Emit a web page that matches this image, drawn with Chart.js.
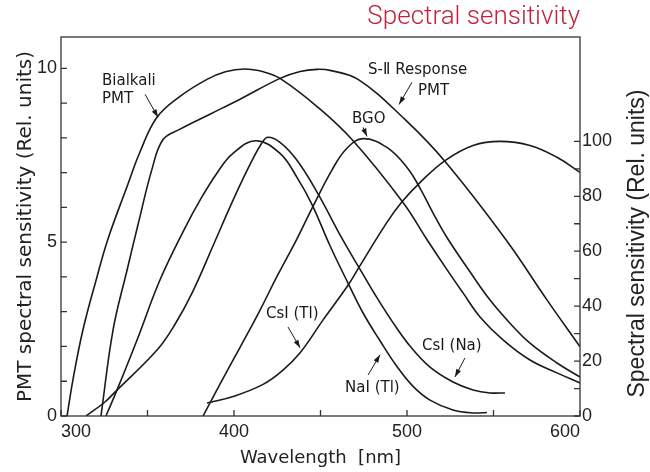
<!DOCTYPE html>
<html>
<head>
<meta charset="utf-8">
<script src="https://cdn.jsdelivr.net/npm/chart.js@4.4.1/dist/chart.umd.min.js"></script>
<style>
  html, body { margin: 0; padding: 0; background: #fff; }
  #wrap { width: 650px; height: 472px; }
</style>
</head>
<body>
<div id="wrap"><canvas id="myChart"></canvas></div>
<script>
// PMT response, left axis (rel. units, 0-10)
const bialkaliWl  = [303.5, 306.9, 312.7, 320.8, 327.2, 338.2, 345.7, 355.5, 368.8, 384.4, 395.0, 406.0, 417.0, 426.6, 448.0, 468.2, 497.7, 511.6, 523.1, 532.4, 542.2, 555.5, 571.1, 586.7, 600];
const bialkaliVal = [0, 1.04, 2.48, 4.0, 5.1, 6.6, 7.6, 8.59, 9.19, 9.68, 9.9, 9.98, 9.9, 9.71, 8.90, 7.95, 6.14, 5.07, 4.21, 3.54, 2.85, 2.19, 1.61, 1.24, 0.95];

const s11Wl  = [323.1, 330.1, 338.2, 344.5, 352.6, 359.0, 368.8, 386.1, 403.5, 426.6, 438.2, 448.0, 455.5, 471.7, 498.8, 522.0, 557.2, 580.9, 600];
const s11Val = [0, 2.48, 4.2, 5.5, 7.1, 7.95, 8.25, 8.68, 9.11, 9.71, 9.91, 9.97, 9.94, 9.68, 8.53, 7.32, 5.07, 3.34, 1.99];

// scintillator emission, right axis (rel. units, 0-100)
const bgoWl  = [382.1, 391.9, 403.5, 415.0, 425.0, 436.4, 445.0, 457.0, 465.3, 474.6, 488.4, 500.0, 507.5, 515.0, 523.1, 536.4, 548.0, 559.5, 571.1, 586.7, 600];
const bgoVal = [0, 11.6, 25.0, 38.5, 51.0, 64.5, 75.5, 90.0, 97.5, 101.0, 97.8, 90.5, 83.0, 74.0, 65.0, 52.5, 42.2, 33.8, 26.5, 19.3, 14.2];

const csiTlWl  = [384.4, 400.0, 416.8, 428.0, 438.2, 451.4, 465.9, 472.3, 488.4, 497.1, 507.5, 522.0, 538.2, 553.8, 571.1, 586.7, 600];
const csiTlVal = [4.7, 7.2, 11.5, 16.5, 23.0, 34.9, 47.6, 54.2, 70.5, 78.0, 85.0, 93.0, 98.5, 100, 98.5, 94.2, 88.7];

const naiWl  = [326.0, 332.4, 343.9, 357.2, 371.7, 380.3, 390.2, 399.4, 412.7, 426.6, 436.4, 445.1, 455.5, 465.9, 474.6, 484.4, 494.2, 503.5, 513.3, 526.6, 538.2, 546.2];
const naiVal = [0, 9.5, 27.6, 49.5, 68.5, 78.5, 88.5, 95.6, 100.2, 95.6, 86.9, 77.0, 62.0, 48.4, 37.5, 27.4, 18.0, 10.8, 5.8, 2.2, 1.1, 1.3];

const csiNaWl  = [314.5, 325.4, 331.2, 355.5, 366.0, 376.3, 387.9, 399.4, 409.2, 416.2, 419.7, 426.6, 436.4, 448.0, 463.0, 472.8, 482.7, 491.9, 501.7, 513.3, 526.6, 538.2, 548.0, 556.6];
const csiNaVal = [0, 5.1, 8.7, 24.0, 33.5, 45.5, 62.0, 78.5, 91.5, 99.5, 101.5, 99.6, 93.1, 81.5, 64.0, 53.5, 43.0, 34.0, 25.5, 17.8, 12.4, 9.5, 8.4, 8.4];

// tick labels and tick marks
const xTicks = [300, 400, 500, 600];
const leftTicks = [0, 5, 10];
const rightTicks = [0, 20, 40, 60, 80, 100];
const xMinor = [300, 350, 400, 450, 500, 550, 600];
const leftMinor = [0, 1, 2, 3, 4, 5, 6, 7, 8, 9, 10];
const rightMinor = [0, 10, 20, 30, 40, 50, 60, 70, 80, 90, 100];

// curve labels (wavelength, left-axis units)
const notes = [
  { text: 'Bialkali', wl: 323.7, v: 9.63 },
  { text: 'PMT', wl: 323.7, v: 9.11 },
  { text: 'S-Ⅱ Response', wl: 477.5, v: 9.94 },
  { text: 'PMT', wl: 506.4, v: 9.34 },
  { text: 'BGO', wl: 468.2, v: 8.53 },
  { text: 'CsI (Tl)', wl: 418.5, v: 2.94 },
  { text: 'NaI (Tl)', wl: 464.2, v: 0.81 },
  { text: 'CsI (Na)', wl: 508.7, v: 2.02 }
];
const arrows = [
  { from: [348.6, 9.25], to: [356.1, 8.59] },
  { from: [502.9, 9.60], to: [495.4, 8.96] },
  { from: [474.6, 8.30], to: [476.9, 8.04] },
  { from: [431.2, 2.56], to: [438.2, 1.96] },
  { from: [477.5, 1.18], to: [484.4, 1.76] },
  { from: [533.5, 1.67], to: [527.7, 1.12] }
];

const ink = '#1a1a1a';
const pts = (xs, ys) => xs.map((x, i) => ({ x: x, y: ys[i] }));
const curve = (label, xs, ys, axis) => ({
  label: label,
  data: pts(xs, ys),
  yAxisID: axis,
  borderColor: ink,
  borderWidth: 1.6,
  pointRadius: 0,
  fill: false,
  tension: 0.4
});

const extras = {
  id: 'extras',
  afterDatasetsDraw(chart) {
    const { ctx, chartArea: a, scales } = chart;
    const x = scales.x, y = scales.y, y1 = scales.y1;
    ctx.save();
    // frame + inward ticks
    ctx.strokeStyle = '#333';
    ctx.lineWidth = 1.3;
    ctx.strokeRect(a.left, a.top, a.right - a.left, a.bottom - a.top);
    ctx.beginPath();
    xMinor.forEach(v => {
      const p = x.getPixelForValue(v);
      ctx.moveTo(p, a.bottom); ctx.lineTo(p, a.bottom - 6);
    });
    leftMinor.forEach(v => {
      const p = y.getPixelForValue(v);
      ctx.moveTo(a.left, p); ctx.lineTo(a.left + 6, p);
    });
    rightMinor.forEach(v => {
      const p = y1.getPixelForValue(v);
      ctx.moveTo(a.right, p); ctx.lineTo(a.right - 6, p);
    });
    ctx.stroke();

    // curve labels
    ctx.fillStyle = ink;
    ctx.font = '15px "DejaVu Sans"';
    ctx.textAlign = 'left';
    ctx.textBaseline = 'middle';
    notes.forEach(n => ctx.fillText(n.text, x.getPixelForValue(n.wl), y.getPixelForValue(n.v)));

    // arrows
    ctx.strokeStyle = ink;
    ctx.lineWidth = 1;
    arrows.forEach(ar => {
      const x0 = x.getPixelForValue(ar.from[0]), y0 = y.getPixelForValue(ar.from[1]);
      const x1 = x.getPixelForValue(ar.to[0]), y1p = y.getPixelForValue(ar.to[1]);
      const ang = Math.atan2(y1p - y0, x1 - x0);
      ctx.beginPath();
      ctx.moveTo(x0, y0); ctx.lineTo(x1, y1p); ctx.stroke();
      ctx.beginPath();
      ctx.moveTo(x1, y1p);
      ctx.lineTo(x1 - 8 * Math.cos(ang) + 2.6 * Math.sin(ang), y1p - 8 * Math.sin(ang) - 2.6 * Math.cos(ang));
      ctx.lineTo(x1 - 8 * Math.cos(ang) - 2.6 * Math.sin(ang), y1p - 8 * Math.sin(ang) + 2.6 * Math.cos(ang));
      ctx.closePath();
      ctx.fill();
    });

    // right axis title, reading upwards
    ctx.font = '23px "Liberation Sans"';
    ctx.textAlign = 'center';
    ctx.fillStyle = '#222';
    ctx.translate(chart.width - 12, (a.top + a.bottom) / 2 + 17);
    ctx.rotate(-Math.PI / 2);
    ctx.fillText('Spectral sensitivity (Rel. units)', 0, 0);
    ctx.restore();
  }
};

const tickFont = { family: 'Liberation Sans', size: 18 };

new Chart(document.getElementById('myChart'), {
  type: 'line',
  data: {
    datasets: [
      curve('Bialkali PMT', bialkaliWl, bialkaliVal, 'y'),
      curve('S-11 Response PMT', s11Wl, s11Val, 'y'),
      curve('BGO', bgoWl, bgoVal, 'y1'),
      curve('CsI (Tl)', csiTlWl, csiTlVal, 'y1'),
      curve('NaI (Tl)', naiWl, naiVal, 'y1'),
      curve('CsI (Na)', csiNaWl, csiNaVal, 'y1')
    ]
  },
  options: {
    responsive: true,
    maintainAspectRatio: false,
    devicePixelRatio: 1,
    animation: false,
    layout: { padding: 0 },
    plugins: {
      legend: { display: false },
      tooltip: { enabled: false },
      title: {
        display: true,
        text: 'Spectral sensitivity',
        align: 'end',
        fullSize: false,
        color: '#c4203b',
        font: { family: 'Roboto', size: 26, weight: '300' },
        padding: { top: 2, bottom: 3.8 }
      }
    },
    scales: {
      x: {
        type: 'linear',
        min: 300,
        max: 600,
        afterBuildTicks: s => { s.ticks = xTicks.map(v => ({ value: v })); },
        afterFit: s => { s.height = 56; },
        ticks: { font: tickFont, color: '#222', padding: 5, align: 'inner', maxRotation: 0 },
        grid: { display: false, drawTicks: false },
        border: { display: false },
        title: {
          display: true,
          text: 'Wavelength  [nm]',
          color: '#222',
          font: { family: 'DejaVu Sans', size: 18 },
          padding: { top: 0, bottom: 3 }
        }
      },
      y: {
        position: 'left',
        min: 0,
        max: 10.9,
        afterBuildTicks: s => { s.ticks = leftTicks.map(v => ({ value: v })); },
        afterFit: s => { s.width = 61; },
        ticks: { font: tickFont, color: '#222', padding: 4 },
        grid: { display: false, drawTicks: false },
        border: { display: false },
        title: {
          display: true,
          text: 'PMT spectral sensitivity (Rel. units)',
          color: '#222',
          font: { family: 'DejaVu Sans', size: 20 },
          padding: { top: 14, bottom: 0 }
        }
      },
      y1: {
        position: 'right',
        min: 0,
        max: 138,
        afterBuildTicks: s => { s.ticks = rightTicks.map(v => ({ value: v })); },
        afterFit: s => { s.width = 70; },
        ticks: { font: tickFont, color: '#222', padding: 2 },
        grid: { display: false, drawTicks: false },
        border: { display: false }
      }
    }
  },
  plugins: [extras]
});
</script>
</body>
</html>
